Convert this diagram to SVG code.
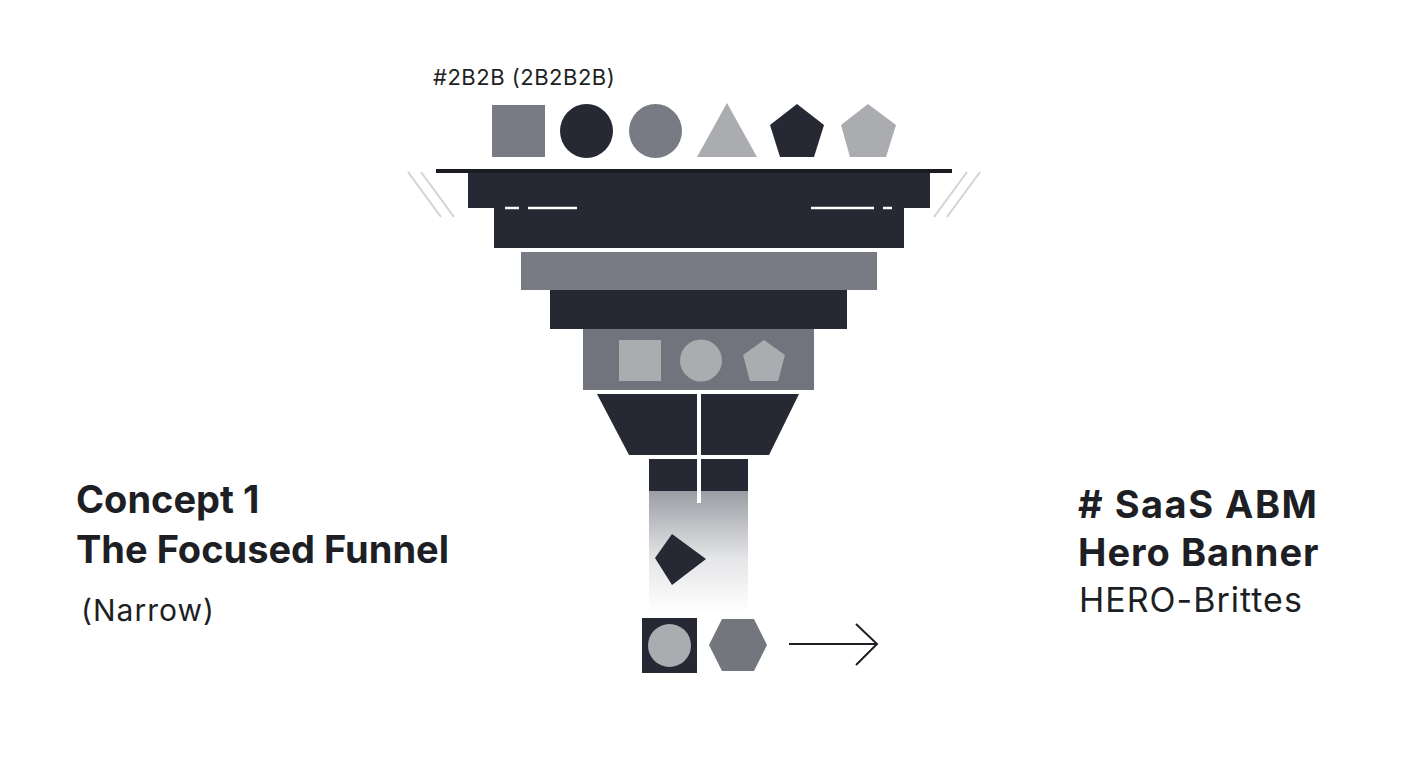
<svg xmlns="http://www.w3.org/2000/svg" width="1408" height="768" viewBox="0 0 1408 768">
<defs>
<style>
.dk{fill:#262833}
.md{fill:#787b83}
.lt{fill:#aaacb0}
.t{font-family:Inter,"Liberation Sans",sans-serif;fill:#1d1f24}
.b{font-weight:700}
.gl{stroke:#d2d3d5;stroke-width:2;fill:none}
.wd{stroke:#ffffff;stroke-width:2.5}
</style>
<linearGradient id="fade" x1="0" y1="0" x2="0" y2="1">
<stop offset="0" stop-color="#9a9da3"/>
<stop offset="0.55" stop-color="#e4e5e7"/>
<stop offset="1" stop-color="#ffffff"/>
</linearGradient>
</defs>
<rect width="1408" height="768" fill="#ffffff"/>

<g id="legend-label">
<text class="t" x="433" y="85" font-size="22" letter-spacing="0.5">#2B2B (2B2B2B)</text>
</g>

<g id="top-shapes">
<rect class="md" x="492" y="105" width="53" height="52"/>
<ellipse class="dk" cx="586.5" cy="131" rx="26.5" ry="27"/>
<ellipse class="md" cx="655.5" cy="131" rx="26.5" ry="27"/>
<polygon class="lt" points="727,103 757,157 697,157"/>
<polygon class="dk" points="797,104 824,125 814,157 780,157 770,125"/>
<polygon class="lt" points="868,104 896,125 886,157 850,157 841,125"/>
</g>

<g id="funnel">
<rect x="436" y="169" width="516" height="4" fill="#1b1c22"/>
<rect class="dk" x="468" y="173" width="462" height="35"/>
<rect class="dk" x="494" y="208" width="410" height="40"/>
<line class="wd" x1="505" y1="208" x2="519" y2="208"/>
<line class="wd" x1="528" y1="208" x2="577" y2="208"/>
<line class="wd" x1="811" y1="208" x2="874" y2="208"/>
<line class="wd" x1="883" y1="208" x2="892" y2="208"/>
<rect class="md" x="521" y="252" width="356" height="38"/>
<rect class="dk" x="550" y="290" width="297" height="39"/>
<rect x="583" y="329" width="231" height="61" fill="#71747c"/>
<rect class="lt" x="619" y="340" width="42" height="41"/>
<circle class="lt" cx="701" cy="360.5" r="21"/>
<polygon class="lt" points="764,340 785,355 778,381 750,381 743,355"/>
<polygon class="dk" points="597,394 697,394 697,455 629,455"/>
<polygon class="dk" points="701,394 799,394 769,455 701,455"/>
<rect class="dk" x="649" y="459" width="48" height="32"/>
<rect class="dk" x="701" y="459" width="47" height="32"/>
<rect x="649" y="491" width="99" height="122" fill="url(#fade)"/>
<rect x="697" y="491" width="4" height="12" fill="#ffffff"/>
</g>

<g id="side-marks">
<line class="gl" x1="408" y1="172" x2="441" y2="217"/>
<line class="gl" x1="421" y1="172" x2="454" y2="217"/>
<line class="gl" x1="980" y1="172" x2="947" y2="217"/>
<line class="gl" x1="967" y1="172" x2="934" y2="217"/>
</g>

<g id="output-shapes">
<polygon class="dk" points="672,534 706,559 672,585 655,558"/>
<rect class="dk" x="642" y="618" width="55" height="55"/>
<circle class="lt" cx="669.5" cy="645.5" r="21.5"/>
<polygon points="722,619 754,619 767,645 754,671 722,671 709,645" fill="#73767d"/>
</g>

<g id="connectors">
<line x1="789" y1="644" x2="877" y2="644" stroke="#1d1f24" stroke-width="2"/>
<polyline points="856,624 877,644 856,665" fill="none" stroke="#1d1f24" stroke-width="2"/>
</g>

<g id="left-title">
<text class="t b" x="76" y="513" font-size="38">Concept 1</text>
<text class="t b" x="76" y="563" font-size="38">The Focused Funnel</text>
<text class="t" x="81" y="621" font-size="30" letter-spacing="1">(Narrow)</text>
</g>

<g id="right-title">
<text class="t b" x="1078" y="518" font-size="38" letter-spacing="1.5"># SaaS ABM</text>
<text class="t b" x="1078" y="566" font-size="38" letter-spacing="1">Hero Banner</text>
<text class="t" x="1079" y="612" font-size="34" letter-spacing="1">HERO-Brittes</text>
</g>
</svg>
